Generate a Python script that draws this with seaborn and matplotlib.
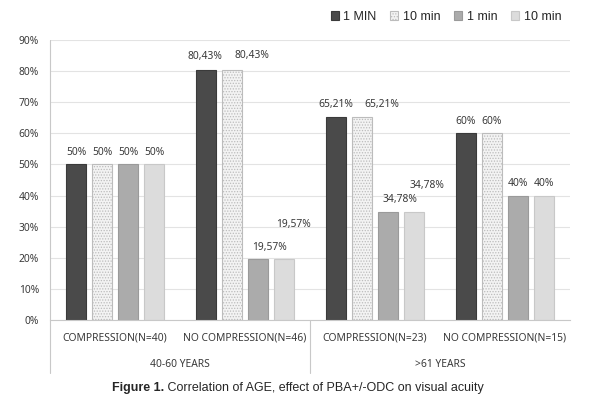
import matplotlib
matplotlib.use("Agg")
import matplotlib.pyplot as plt
import seaborn as sns
import pandas as pd
from matplotlib.patches import Patch
from matplotlib.lines import Line2D

categories = ["COMPRESSION(N=40)", "NO COMPRESSION(N=46)", "COMPRESSION(N=23)", "NO COMPRESSION(N=15)"]
groups = ["40-60 YEARS", ">61 YEARS"]
series = ["1 MIN", "10 min", "1 min ", "10 min "]
values = {
    "1 MIN":   [50.00, 80.43, 65.21, 60.0],
    "10 min":  [50.00, 80.43, 65.21, 60.0],
    "1 min ":  [50.00, 19.57, 34.78, 40.0],
    "10 min ": [50.00, 19.57, 34.78, 40.0],
}
value_labels = {
    "1 MIN":   ["50%", "80,43%", "65,21%", "60%"],
    "10 min":  ["50%", "80,43%", "65,21%", "60%"],
    "1 min ":  ["50%", "19,57%", "34,78%", "40%"],
    "10 min ": ["50%", "19,57%", "34,78%", "40%"],
}
yticks = [0, 10, 20, 30, 40, 50, 60, 70, 80, 90]
caption_bold = "Figure 1."
caption_rest = " Correlation of AGE, effect of PBA+/-ODC on visual acuity"

# label offsets in pixels (dx, dy) relative to bar top-centre
label_offsets = {
    "1 MIN":   [(0, 12), (-1, 13), (0, 13), (0, 12)],
    "10 min":  [(0, 12), (20, 14), (20, 13), (0, 12)],
    "1 min ":  [(0, 12), (11, 12), (12, 12), (0, 12)],
    "10 min ": [(0, 12), (9, 35), (13, 26), (0, 12)],
}

rows = []
for s in series:
    for c, v in zip(categories, values[s]):
        rows.append({"cat": c, "series": s, "value": v})
df = pd.DataFrame(rows)

sns.set_theme(style="white")
plt.rcParams["font.family"] = ["Noto Sans", "DejaVu Sans"]
plt.rcParams["hatch.linewidth"] = 0.6

TXT = "#3a3a3a"
FS = 7.4

fig = plt.figure(figsize=(6, 4), dpi=100)
ax = fig.add_axes([50/600, 0.2, 520/600, 0.7])

face = {"1 MIN": "#4a4a4a", "10 min": "#f3f3f3", "1 min ": "#ababab", "10 min ": "#dcdcdc"}
edge = {"1 MIN": "#3a3a3a", "10 min": "#bcbcbc", "1 min ": "#9a9a9a", "10 min ": "#c8c8c8"}
hatch = {"1 MIN": None, "10 min": "......", "1 min ": None, "10 min ": None}

sns.barplot(data=df, x="cat", y="value", hue="series", hue_order=series,
            order=categories, palette=face, width=0.8, gap=0.23,
            ax=ax, legend=False, saturation=1)

for s, cont in zip(series, ax.containers):
    for i, p in enumerate(cont.patches):
        p.set_edgecolor(edge[s])
        p.set_linewidth(0.8)
        if hatch[s]:
            p.set_hatch(hatch[s])
        x = p.get_x() + p.get_width() / 2
        y = p.get_height()
        dx, dy = label_offsets[s][i]
        ax.annotate(value_labels[s][i], (x, y), xytext=(dx, dy),
                    textcoords="offset pixels", ha="center", va="center",
                    fontsize=FS, color=TXT)

ax.set_ylim(0, 90)
ax.set_xlim(-0.5, 3.5)
ax.set_yticks(yticks)
ax.set_yticklabels([f"{t}%" for t in yticks], fontsize=FS, color=TXT)
ax.yaxis.grid(True, color="#e3e3e3", linewidth=0.8)
ax.set_axisbelow(True)
ax.set_xticks(range(len(categories)))
ax.set_xticklabels(categories, fontsize=FS, color=TXT)
ax.tick_params(axis="both", length=0)
ax.tick_params(axis="x", pad=9)
ax.tick_params(axis="y", pad=8)
ax.set_xlabel("")
ax.set_ylabel("")
for sp in ["top", "right", "left"]:
    ax.spines[sp].set_visible(False)
ax.spines["bottom"].set_color("#c8c8c8")
ax.spines["bottom"].set_linewidth(0.8)

# category-group separators
for xv in [-0.5, 1.5]:
    ax.add_line(Line2D([xv, xv], [-0.19, 1.0] if xv == -0.5 else [-0.19, 0.0],
                       transform=ax.get_xaxis_transform(), color="#c8c8c8",
                       linewidth=0.8, clip_on=False))
for gi, g in enumerate(groups):
    ax.text(gi * 2 + 0.5, -0.16, g, transform=ax.get_xaxis_transform(),
            ha="center", va="center", fontsize=FS, color=TXT)

handles = [Patch(facecolor=face[s], edgecolor=edge[s], hatch=hatch[s], linewidth=0.8) for s in series]
fig.legend(handles, [s.strip() for s in series], loc="center", bbox_to_anchor=(446/600, 1 - 17/400),
           ncol=4, frameon=False, handlelength=0.65, handleheight=0.65, handletextpad=0.35,
           columnspacing=1.1, prop={"family": "Liberation Sans", "size": 9})

fig.canvas.draw()
t1 = fig.text(0, 1 - 388/400, caption_bold, fontsize=9, fontweight="bold",
              family="Liberation Sans", va="center", ha="left")
t2 = fig.text(0, 1 - 388/400, caption_rest, fontsize=9, family="Liberation Sans",
              va="center", ha="left")
r = fig.canvas.get_renderer()
w1 = t1.get_window_extent(r).width
w2 = t2.get_window_extent(r).width
start = 298 - (w1 + w2) / 2
t1.set_x(start / 600)
t2.set_x((start + w1) / 600)

fig.savefig("out.png", dpi=100)
